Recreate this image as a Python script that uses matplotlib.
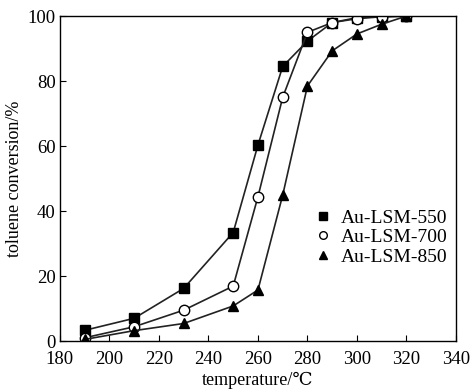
import matplotlib.pyplot as plt
from matplotlib.lines import Line2D

plt.rcParams.update({
    "font.family": ["Liberation Serif", "DejaVu Serif"],
    "font.size": 13.5,
    "axes.linewidth": 1.0,
    "xtick.direction": "in",
    "ytick.direction": "in",
    "xtick.major.size": 4,
    "ytick.major.size": 4,
    "xtick.major.pad": 7,
    "ytick.major.pad": 3,
})

# data
temp = [190, 210, 230, 250, 260, 270, 280, 290, 300, 310, 320]
lsm550 = [3.3, 7.0, 16.2, 33.4, 60.3, 84.5, 92.3, 98.0, 99.5, 99.8, 100.0]
lsm700 = [1.0, 4.4, 9.5, 16.9, 44.4, 75.0, 95.0, 98.0, 99.2, 99.8, 100.0]
lsm850 = [0.5, 3.2, 5.4, 10.8, 15.7, 44.9, 78.5, 89.3, 94.5, 97.5, 100.0]

labels = ["Au-LSM-550", "Au-LSM-700", "Au-LSM-850"]
series = [lsm550, lsm700, lsm850]
markers = ["s", "o", "^"]
faces = ["black", "white", "black"]
sizes = [6.5, 7.5, 7.5]

fig = plt.figure(figsize=(4.72, 3.92), dpi=100)
ax = fig.add_axes([0.127, 0.130, 0.839, 0.829])

for vals, m, fc, ms in zip(series, markers, faces, sizes):
    ax.plot(temp, vals, color="#222222", linewidth=1.2, marker=m,
            markersize=ms, markerfacecolor=fc, markeredgecolor="black",
            markeredgewidth=1.0)

ax.set_xlim(180, 340)
ax.set_ylim(0, 100)
ax.set_xticks(range(180, 341, 20))
ax.set_yticks(range(0, 101, 20))
ax.set_xlabel("temperature/\u2103", fontsize=13, labelpad=3)
ax.set_ylabel("toluene conversion/%", fontsize=13, labelpad=3)

handles = [Line2D([], [], linestyle="none", marker=m, markersize=5.5,
                  markerfacecolor=fc, markeredgecolor="black")
           for m, fc in zip(markers, faces)]
ax.legend(handles, labels, loc="upper left", bbox_to_anchor=(0.601, 0.46),
          frameon=False, handletextpad=0.5, labelspacing=0.1,
          fontsize=14, handlelength=0.8)

fig.savefig("out.png", dpi=100)
